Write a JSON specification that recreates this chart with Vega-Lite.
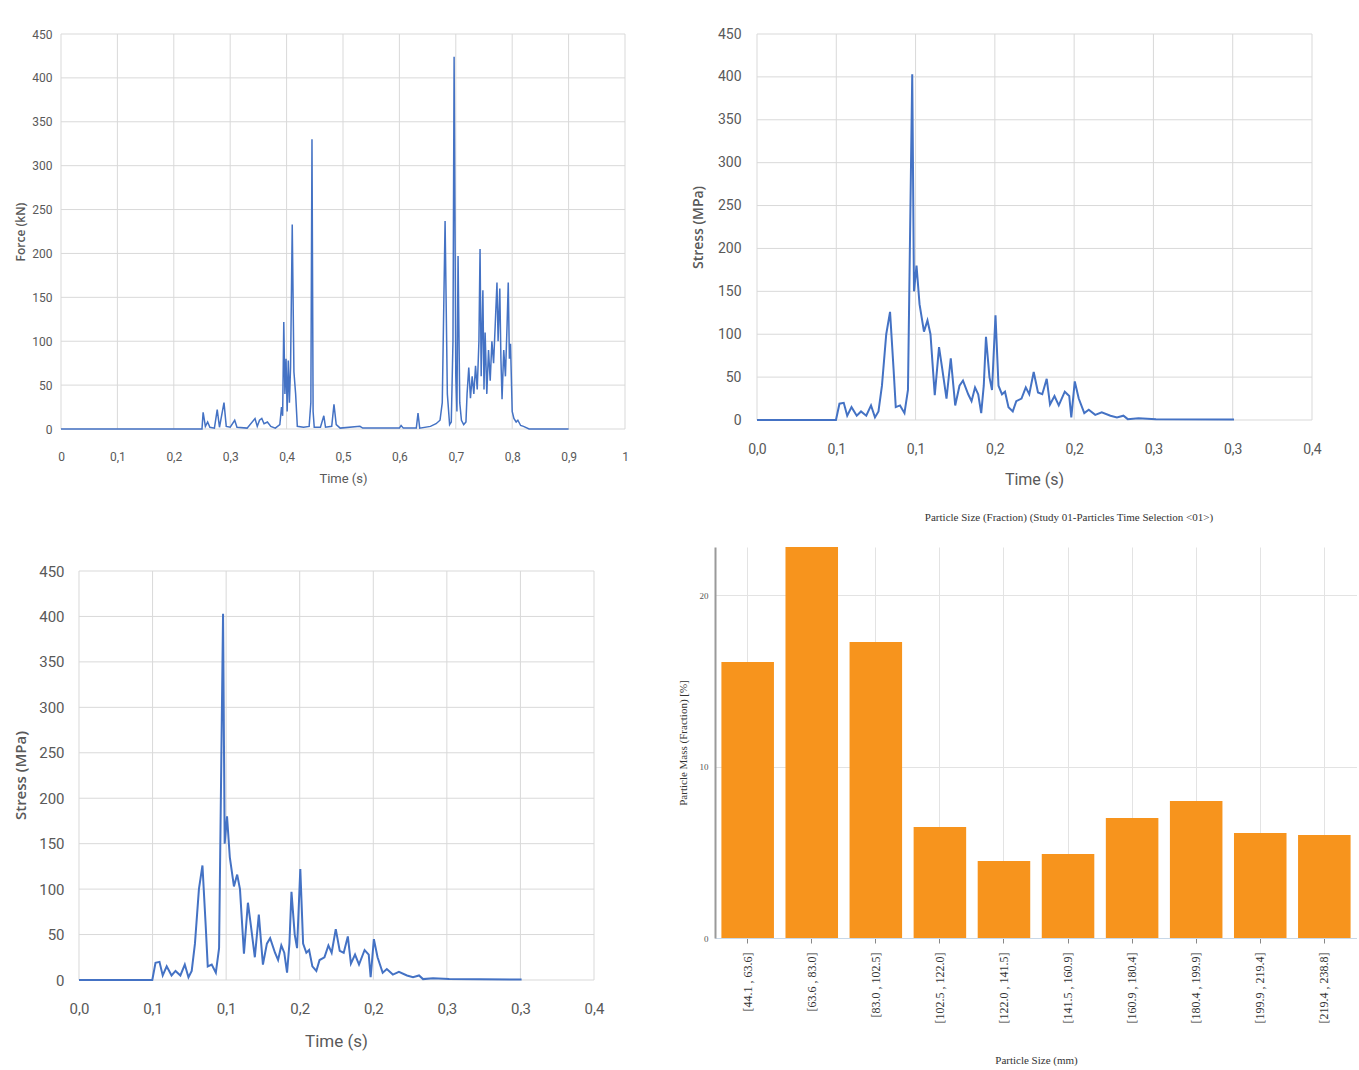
{
  "$schema": "https://vega.github.io/schema/vega-lite/v6.json",
  "background": "white",
  "padding": {"left": 13, "top": 27, "right": 0, "bottom": 0},
  "config": {
    "view": {"stroke": null},
    "axis": {
      "grid": false,
      "gridColor": "#d9d9d9",
      "labelColor": "#595959",
      "titleColor": "#595959",
      "labelFont": "Roboto, sans-serif",
      "titleFont": "Roboto, sans-serif",
      "titleFontWeight": "normal",
      "labelFlush": false,
      "ticks": false,
      "domain": false
    },
    "rule": {"color": "#d9d9d9", "strokeWidth": 1}
  },
  "datasets": {
    "gy": [{"g":0},{"g":50},{"g":100},{"g":150},{"g":200},{"g":250},{"g":300},{"g":350},{"g":400},{"g":450}],
    "gxF": [{"g":0},{"g":0.1},{"g":0.2},{"g":0.3},{"g":0.4},{"g":0.5},{"g":0.6},{"g":0.7},{"g":0.8},{"g":0.9},{"g":1}],
    "gxS": [{"g":0},{"g":0.05},{"g":0.1},{"g":0.15},{"g":0.2},{"g":0.25},{"g":0.3},{"g":0.35}],
    "force": [
      {"t":0,"v":0},{"t":0.25,"v":0},{"t":0.252,"v":19},{"t":0.256,"v":3},{"t":0.26,"v":8},{"t":0.264,"v":2},{"t":0.272,"v":1},{"t":0.277,"v":22},{"t":0.281,"v":2},{"t":0.289,"v":30},{"t":0.293,"v":3},{"t":0.3,"v":2},{"t":0.308,"v":10},{"t":0.312,"v":2},{"t":0.33,"v":1},{"t":0.344,"v":12},{"t":0.348,"v":3},{"t":0.352,"v":10},{"t":0.356,"v":12},{"t":0.36,"v":6},{"t":0.366,"v":8},{"t":0.372,"v":3},{"t":0.38,"v":1},{"t":0.388,"v":5},{"t":0.391,"v":25},{"t":0.393,"v":15},{"t":0.395,"v":122},{"t":0.397,"v":40},{"t":0.399,"v":80},{"t":0.401,"v":20},{"t":0.403,"v":78},{"t":0.405,"v":30},{"t":0.407,"v":70},{"t":0.41,"v":233},{"t":0.413,"v":65},{"t":0.416,"v":40},{"t":0.419,"v":3},{"t":0.43,"v":2},{"t":0.44,"v":3},{"t":0.443,"v":30},{"t":0.445,"v":330},{"t":0.447,"v":20},{"t":0.449,"v":2},{"t":0.46,"v":2},{"t":0.466,"v":15},{"t":0.469,"v":2},{"t":0.48,"v":3},{"t":0.484,"v":28},{"t":0.488,"v":5},{"t":0.495,"v":1},{"t":0.53,"v":3},{"t":0.535,"v":1},{"t":0.6,"v":1},{"t":0.603,"v":4},{"t":0.607,"v":1},{"t":0.63,"v":1},{"t":0.633,"v":18},{"t":0.636,"v":1},{"t":0.655,"v":3},{"t":0.665,"v":6},{"t":0.672,"v":10},{"t":0.676,"v":30},{"t":0.681,"v":237},{"t":0.685,"v":40},{"t":0.689,"v":5},{"t":0.692,"v":8},{"t":0.695,"v":100},{"t":0.697,"v":424},{"t":0.7,"v":60},{"t":0.702,"v":20},{"t":0.704,"v":197},{"t":0.707,"v":30},{"t":0.71,"v":10},{"t":0.714,"v":5},{"t":0.718,"v":8},{"t":0.72,"v":40},{"t":0.723,"v":70},{"t":0.726,"v":35},{"t":0.729,"v":60},{"t":0.732,"v":40},{"t":0.735,"v":72},{"t":0.738,"v":45},{"t":0.741,"v":100},{"t":0.743,"v":205},{"t":0.745,"v":60},{"t":0.748,"v":158},{"t":0.75,"v":45},{"t":0.752,"v":110},{"t":0.755,"v":40},{"t":0.758,"v":90},{"t":0.761,"v":55},{"t":0.764,"v":100},{"t":0.767,"v":75},{"t":0.77,"v":120},{"t":0.773,"v":167},{"t":0.775,"v":100},{"t":0.778,"v":160},{"t":0.78,"v":80},{"t":0.782,"v":34},{"t":0.785,"v":90},{"t":0.788,"v":60},{"t":0.791,"v":120},{"t":0.793,"v":167},{"t":0.795,"v":80},{"t":0.797,"v":97},{"t":0.8,"v":20},{"t":0.803,"v":12},{"t":0.807,"v":8},{"t":0.81,"v":10},{"t":0.815,"v":4},{"t":0.82,"v":3},{"t":0.83,"v":0},{"t":0.9,"v":0}
    ],
    "stress": [
      {"t":0,"v":0},{"t":0.0498,"v":0},{"t":0.052,"v":19},{"t":0.0547,"v":20},{"t":0.0569,"v":5},{"t":0.0596,"v":15},{"t":0.0629,"v":5},{"t":0.0656,"v":10},{"t":0.0689,"v":5},{"t":0.0719,"v":17},{"t":0.0744,"v":3},{"t":0.0766,"v":10},{"t":0.0788,"v":40},{"t":0.0815,"v":100},{"t":0.0839,"v":126},{"t":0.0861,"v":60},{"t":0.0875,"v":15},{"t":0.0902,"v":17},{"t":0.093,"v":8},{"t":0.0952,"v":35},{"t":0.0979,"v":403},{"t":0.099,"v":150},{"t":0.1006,"v":180},{"t":0.1025,"v":135},{"t":0.1053,"v":103},{"t":0.1075,"v":116},{"t":0.1094,"v":100},{"t":0.1121,"v":29},{"t":0.1148,"v":85},{"t":0.1168,"v":60},{"t":0.1195,"v":25},{"t":0.1222,"v":72},{"t":0.125,"v":17},{"t":0.1277,"v":40},{"t":0.1299,"v":46},{"t":0.1332,"v":30},{"t":0.1353,"v":22},{"t":0.1375,"v":38},{"t":0.1395,"v":30},{"t":0.1414,"v":8},{"t":0.143,"v":40},{"t":0.1444,"v":97},{"t":0.1466,"v":50},{"t":0.1482,"v":35},{"t":0.1504,"v":122},{"t":0.1523,"v":40},{"t":0.1545,"v":30},{"t":0.1564,"v":33},{"t":0.1586,"v":15},{"t":0.1613,"v":10},{"t":0.1635,"v":22},{"t":0.1668,"v":25},{"t":0.1695,"v":38},{"t":0.1717,"v":30},{"t":0.1745,"v":56},{"t":0.1772,"v":32},{"t":0.1799,"v":30},{"t":0.1827,"v":48},{"t":0.1848,"v":18},{"t":0.1876,"v":28},{"t":0.1903,"v":17},{"t":0.1941,"v":33},{"t":0.1969,"v":28},{"t":0.1982,"v":3},{"t":0.2004,"v":45},{"t":0.2029,"v":25},{"t":0.2064,"v":8},{"t":0.2092,"v":12},{"t":0.2133,"v":6},{"t":0.2174,"v":9},{"t":0.2229,"v":5},{"t":0.227,"v":3},{"t":0.2311,"v":5},{"t":0.2338,"v":1},{"t":0.2406,"v":2},{"t":0.2516,"v":1},{"t":0.3008,"v":0.5}
    ],
    "particles": [
      {"bin":"[44.1 , 63.6]","mass":16.1},
      {"bin":"[63.6 , 83.0]","mass":22.8},
      {"bin":"[83.0 , 102.5]","mass":17.26},
      {"bin":"[102.5 , 122.0]","mass":6.47},
      {"bin":"[122.0 , 141.5]","mass":4.49},
      {"bin":"[141.5 , 160.9]","mass":4.9},
      {"bin":"[160.9 , 180.4]","mass":7.0},
      {"bin":"[180.4 , 199.9]","mass":7.99},
      {"bin":"[199.9 , 219.4]","mass":6.12},
      {"bin":"[219.4 , 238.8]","mass":6.0}
    ]
  },
  "columns": 2,
  "align": "each",
  "bounds": "flush",
  "spacing": {"row": 118, "column": 90},
  "concat": [
    {
      "width": 564,
      "height": 395,
      "layer": [
        {"data": {"name": "gy"}, "mark": "rule",
          "encoding": {
            "y": {"field": "g", "type": "quantitative", "scale": {"domain": [0, 450], "nice": false}},
            "x": {"datum": 0, "type": "quantitative", "scale": {"domain": [0, 1], "nice": false}},
            "x2": {"datum": 1}}},
        {"data": {"name": "gxF"}, "mark": "rule",
          "encoding": {
            "x": {"field": "g", "type": "quantitative", "scale": {"domain": [0, 1], "nice": false}},
            "y": {"datum": 0, "type": "quantitative", "scale": {"domain": [0, 450], "nice": false}},
            "y2": {"datum": 450}}},
        {"data": {"name": "force"},
          "mark": {"type": "line", "color": "#4472c4", "strokeWidth": 1.5},
          "encoding": {
            "x": {"field": "t", "type": "quantitative", "scale": {"domain": [0, 1], "nice": false},
              "axis": {"values": [0,0.1,0.2,0.3,0.4,0.5,0.6,0.7,0.8,0.9,1], "labelExpr": "replace(format(datum.value, '.1~f'), '.', ',')",
                "title": "Time (s)", "labelFontSize": 12, "labelPadding": 22, "titleFontSize": 13, "titlePadding": 10}},
            "y": {"field": "v", "type": "quantitative", "scale": {"domain": [0, 450], "nice": false},
              "axis": {"values": [0,50,100,150,200,250,300,350,400,450], "title": "Force (kN)", "labelFontSize": 12, "labelPadding": 9,
                "titleFontSize": 12, "titlePadding": 4, "titleFont": "Open Sans", "titleFontWeight": 600}}
          }}
      ]
    },
    {
      "width": 597,
      "height": 386,
      "layer": [
        {"data": {"name": "gy"}, "mark": "rule",
          "encoding": {
            "y": {"field": "g", "type": "quantitative", "scale": {"domain": [0, 450], "nice": false}},
            "x": {"datum": 0, "type": "quantitative", "scale": {"domain": [-0.0264865, 0.35], "nice": false}},
            "x2": {"datum": 0.35}}},
        {"data": {"name": "gxS"}, "mark": "rule",
          "encoding": {
            "x": {"field": "g", "type": "quantitative", "scale": {"domain": [-0.0264865, 0.35], "nice": false}},
            "y": {"datum": 0, "type": "quantitative", "scale": {"domain": [0, 450], "nice": false}},
            "y2": {"datum": 450}}},
        {"data": {"name": "stress"},
          "mark": {"type": "line", "color": "#4472c4", "strokeWidth": 2},
          "encoding": {
            "x": {"field": "t", "type": "quantitative", "scale": {"domain": [-0.0264865, 0.35], "nice": false},
              "axis": {"values": [0,0.05,0.1,0.15,0.2,0.25,0.3,0.35], "labelExpr": "replace(format(datum.value + 0.0001, '.1f'), '.', ',')",
                "title": "Time  (s)", "titleX": 319, "labelFontSize": 14, "labelPadding": 22, "titleFontSize": 16, "titlePadding": 15}},
            "y": {"field": "v", "type": "quantitative", "scale": {"domain": [0, 450], "nice": false},
              "axis": {"values": [0,50,100,150,200,250,300,350,400,450], "offset": -42, "title": "Stress (MPa)", "labelFontSize": 14, "labelPadding": 16,
                "titleFontSize": 14, "titlePadding": 12, "titleFont": "Open Sans", "titleFontWeight": 600}}
          }}
      ]
    },
    {
      "width": 533,
      "height": 433,
      "layer": [
        {"data": {"name": "gy"}, "mark": "rule",
          "encoding": {
            "y": {"field": "g", "type": "quantitative", "scale": {"domain": [0, 476.406], "nice": false}},
            "x": {"datum": 0, "type": "quantitative", "scale": {"domain": [-0.012233, 0.35], "nice": false}},
            "x2": {"datum": 0.35}}},
        {"data": {"name": "gxS"}, "mark": "rule",
          "encoding": {
            "x": {"field": "g", "type": "quantitative", "scale": {"domain": [-0.012233, 0.35], "nice": false}},
            "y": {"datum": 0, "type": "quantitative", "scale": {"domain": [0, 476.406], "nice": false}},
            "y2": {"datum": 450}}},
        {"data": {"name": "stress"},
          "mark": {"type": "line", "color": "#4472c4", "strokeWidth": 2},
          "encoding": {
            "x": {"field": "t", "type": "quantitative", "scale": {"domain": [-0.012233, 0.35], "nice": false},
              "axis": {"values": [0,0.05,0.1,0.15,0.2,0.25,0.3,0.35], "labelExpr": "replace(format(datum.value + 0.0001, '.1f'), '.', ',')",
                "title": "Time  (s)", "titleX": 275, "labelFontSize": 15, "labelPadding": 21, "titleFontSize": 17, "titlePadding": 17}},
            "y": {"field": "v", "type": "quantitative", "scale": {"domain": [0, 476.406], "nice": false},
              "axis": {"values": [0,50,100,150,200,250,300,350,400,450], "offset": -18, "title": "Stress (MPa)", "titleY": 228, "labelFontSize": 15, "labelPadding": 15,
                "titleFontSize": 15, "titlePadding": 10, "titleFont": "Open Sans", "titleFontWeight": 600}}
          }}
      ]
    },
    {
      "width": 642,
      "height": 391,
      "title": {"text": "Particle Size (Fraction) (Study 01-Particles Time Selection <01>)", "font": "Liberation Serif", "fontSize": 11, "fontWeight": "normal", "color": "#333333", "offset": 24, "frame": "group", "anchor": "middle", "dx": 33},
      "data": {"name": "particles"},
      "mark": {"type": "bar", "color": "#f7941d"},
      "encoding": {
        "x": {"field": "bin", "type": "nominal", "sort": null, "scale": {"paddingInner": 0.18, "paddingOuter": 0.1},
          "axis": {"labelAngle": -90, "labelFont": "Liberation Serif", "labelFontSize": 12, "labelColor": "#333333", "labelPadding": 9,
            "ticks": true, "tickSize": 5, "tickColor": "#888888", "domain": true, "domainColor": "#c8d8e8",
            "title": "Particle Size (mm)", "titleFont": "Liberation Serif", "titleFontSize": 11, "titleColor": "#333333", "titlePadding": 32, "grid": true, "gridColor": "#e3e3e3"}},
        "y": {"field": "mass", "type": "quantitative", "scale": {"domain": [0, 22.8], "nice": false},
          "axis": {"values": [0, 10, 20], "labelFont": "Liberation Serif", "labelFontSize": 9, "labelColor": "#555555", "labelPadding": 7,
            "domain": true, "domainColor": "#9a9a9a", "domainWidth": 2, "grid": true,
            "title": "Particle Mass (Fraction) [%]", "titleFont": "Liberation Serif", "titleFontSize": 11, "titleColor": "#333333", "titlePadding": 11, "gridColor": "#e3e3e3"}}
      }
    }
  ]
}
